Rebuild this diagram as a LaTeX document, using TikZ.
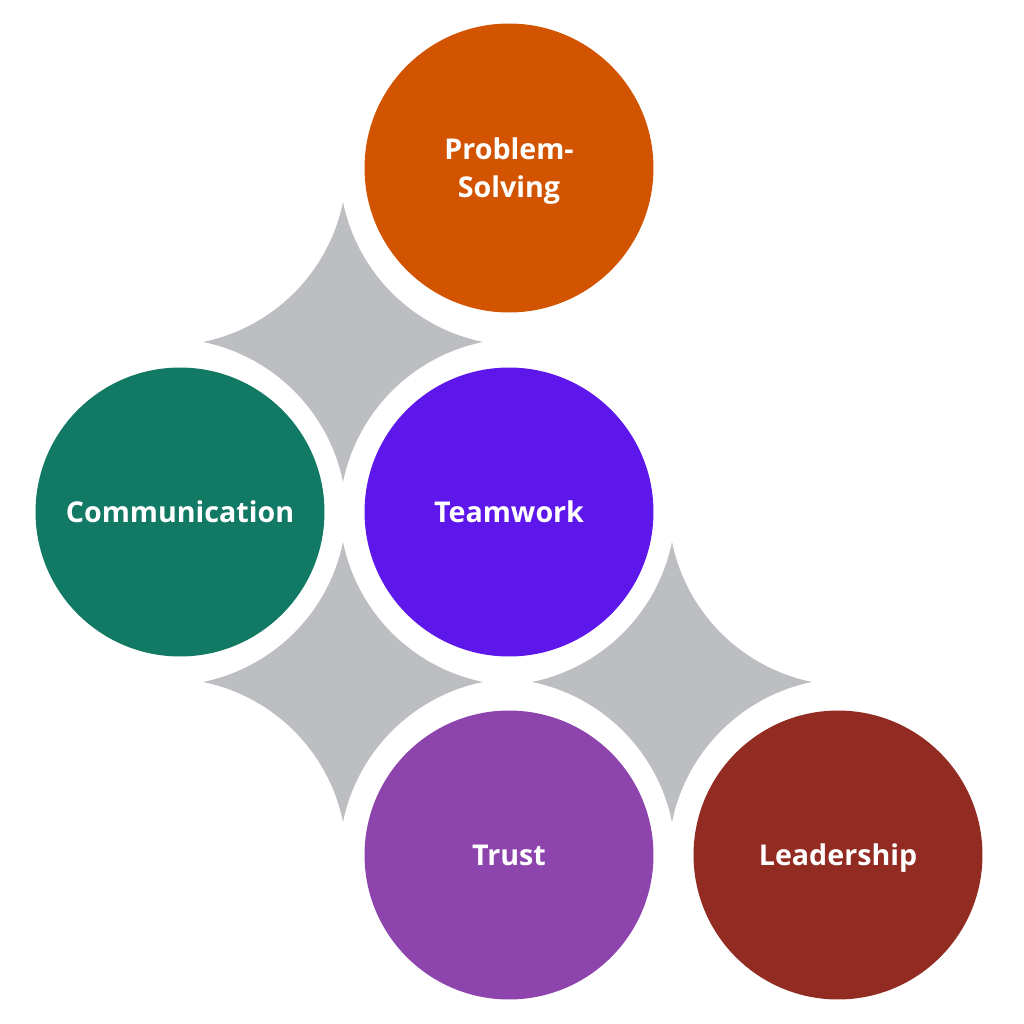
\documentclass[tikz,border=0pt]{standalone}
\usepackage{fontspec}
\setmainfont{Open Sans}
\definecolor{cOrange}{HTML}{D35400}
\definecolor{cTeal}{HTML}{127A64}
\definecolor{cViolet}{HTML}{5E17EB}
\definecolor{cPurple}{HTML}{8E44AD}
\definecolor{cRed}{HTML}{922B21}
\definecolor{cGray}{HTML}{BDBEC1}
\tikzset{
  bubble/.style={circle, minimum size=5.78cm, inner sep=0pt, text=white,
    font=\fontsize{16.3pt}{21.5pt}\selectfont\bfseries, align=center, text depth=0pt},
  sparkle/.pic={
    \fill[cGray, x=0.02cm, y=0.02cm] (0,140) arc[start angle=191.56, end angle=258.44, radius=179.6]
      arc[start angle=101.56, end angle=168.44, radius=179.6]
      arc[start angle=11.56, end angle=78.44, radius=179.6]
      arc[start angle=281.56, end angle=348.44, radius=179.6] -- cycle;
  }
}
\begin{document}
\begin{tikzpicture}[x=0.02cm,y=-0.02cm]
\useasboundingbox (0,0) rectangle (1024,1024);
\pic at (343,342) {sparkle};
\pic at (343,682) {sparkle};
\pic at (672,682) {sparkle};
\node[bubble, fill=cOrange] (ps) at (509,168) {Problem-\\Solving};
\node[bubble, fill=cTeal] (comm) at (180,512) {Communication};
\node[bubble, fill=cViolet] (team) at (509,512) {Teamwork};
\node[bubble, fill=cPurple] (trust) at (509,855) {Trust};
\node[bubble, fill=cRed] (lead) at (838,855) {Leadership};
\end{tikzpicture}
\end{document}
